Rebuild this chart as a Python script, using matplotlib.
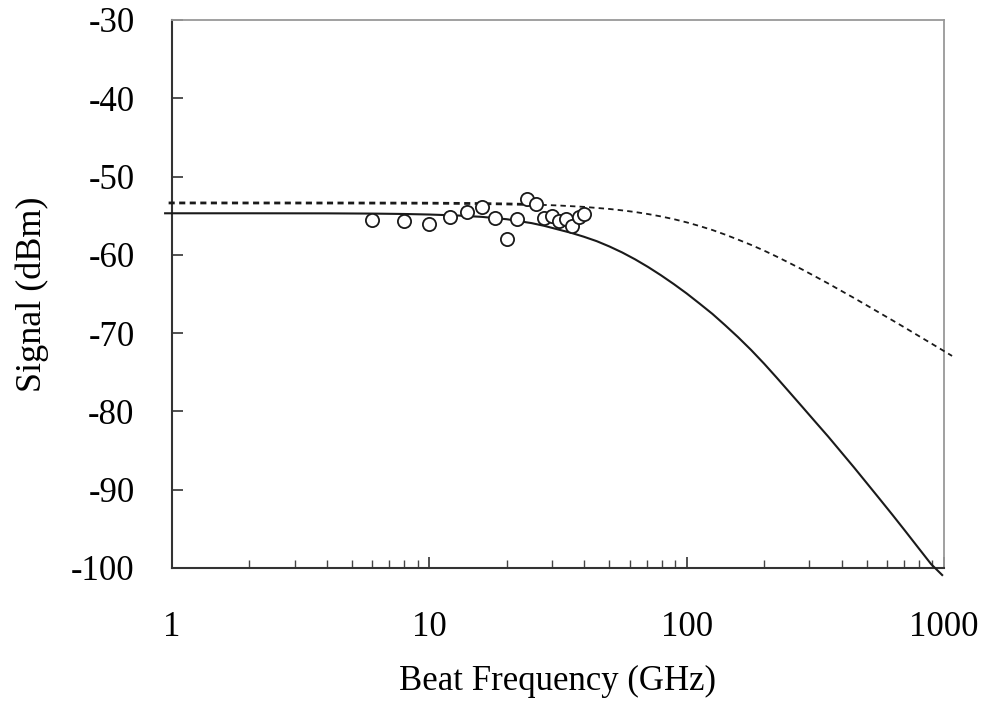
import matplotlib
matplotlib.use("Agg")
import matplotlib.pyplot as plt
from matplotlib.ticker import LogLocator, NullFormatter

# measured data points (GHz, dBm)
meas_freq = [6, 8, 10, 12, 14, 16, 18, 20, 22, 24, 26, 28, 30, 32, 34, 36, 38, 40]
meas_sig = [-55.54, -55.71, -56.05, -55.20, -54.48, -53.88, -55.29, -57.97, -55.38,
            -52.90, -53.46, -55.25, -54.99, -55.67, -55.45, -56.31, -55.12, -54.78]

# solid curve
solid_freq = [0.94, 2, 4, 6, 8, 10, 13, 16, 20, 25, 28, 31.6, 35.5, 39.8, 44.7, 50.1,
              56.2, 63.1, 70.8, 79.4, 89.1, 100, 112, 126, 141, 158, 178, 200, 224,
              251, 282, 316, 355, 398, 447, 501, 562, 631, 708, 794, 891, 984]
solid_sig = [-54.69, -54.69, -54.70, -54.73, -54.78, -54.85, -54.98, -55.15, -55.45,
             -55.95, -56.30, -56.75, -57.18, -57.68, -58.25, -58.93, -59.70, -60.58,
             -61.55, -62.60, -63.73, -64.93, -66.20, -67.55, -68.98, -70.48, -72.15,
             -73.90, -75.70, -77.55, -79.45, -81.32, -83.22, -85.17, -87.15, -89.15,
             -91.17, -93.22, -95.30, -97.40, -99.50, -100.90]

# dashed curve
dash_freq = [0.97, 5, 10, 15, 20, 25, 31.6, 39.8, 50.1, 56.2, 63.1, 70.8, 79.4, 89.1,
             100, 112, 126, 141, 158, 178, 200, 224, 251, 282, 316, 355, 398, 447,
             501, 562, 631, 708, 794, 891, 1000, 1075]
dash_sig = [-53.37, -53.38, -53.40, -53.44, -53.50, -53.57, -53.69, -53.87, -54.14,
            -54.32, -54.53, -54.79, -55.09, -55.44, -55.85, -56.31, -56.83, -57.41,
            -58.04, -58.73, -59.46, -60.23, -61.04, -61.89, -62.76, -63.66, -64.58,
            -65.51, -66.45, -67.41, -68.37, -69.34, -70.32, -71.30, -72.29, -72.91]

xticks = [1, 10, 100, 1000]
xticklabels = ["1", "10", "100", "1000"]
yticks = [-100, -90, -80, -70, -60, -50, -40, -30]

plt.rcParams['font.family'] = ['Liberation Serif', 'DejaVu Serif']

fig = plt.figure(figsize=(9.83, 7.04), dpi=100)
ax = fig.add_axes([0.175, 0.1932, 0.7853, 0.7784])

ax.plot(solid_freq, solid_sig, color='#1a1a1a', lw=1.5, clip_on=False, zorder=3)
# dashed: bolder on the flat part, thinner on the roll-off (as in the original)
ax.plot(dash_freq[:6], dash_sig[:6], color='#1a1a1a', lw=2.0, ls=(0, (2.2, 1.6)),
        clip_on=False, zorder=3)
ax.plot(dash_freq[5:], dash_sig[5:], color='#1a1a1a', lw=1.3, ls=(0, (3.0, 2.3)),
        clip_on=False, zorder=3)
ax.plot(meas_freq, meas_sig, ls='none', marker='o', ms=9.5, mfc='white', mec='#1a1a1a',
        mew=1.3, clip_on=False, zorder=4)

ax.set_xscale('log')
ax.set_xlim(1, 1000)
ax.set_ylim(-100, -30)
ax.set_xticks(xticks)
ax.set_xticklabels(xticklabels)
ax.xaxis.set_minor_locator(LogLocator(base=10, subs=range(2, 10)))
ax.xaxis.set_minor_formatter(NullFormatter())
ax.set_yticks(yticks)
ax.set_yticklabels([str(v) for v in yticks])

ax.tick_params(axis='both', which='major', direction='in', length=8, width=1.2,
               labelsize=25, color='#333333', top=False, right=False)
ax.tick_params(axis='x', which='major', pad=31)
ax.tick_params(axis='y', which='major', pad=27)
ax.tick_params(axis='x', which='minor', direction='in', length=6, width=1.0,
               color='#444444', top=False)

for s in ['left', 'bottom']:
    ax.spines[s].set_color('#333333')
    ax.spines[s].set_linewidth(1.5)
for s in ['top', 'right']:
    ax.spines[s].set_color('#999999')
    ax.spines[s].set_linewidth(1.3)

ax.set_xlabel('Beat Frequency (GHz)', fontsize=25, labelpad=15)
ax.set_ylabel('Signal (dBm)', fontsize=26, labelpad=16)

fig.savefig('out.png', dpi=100)
